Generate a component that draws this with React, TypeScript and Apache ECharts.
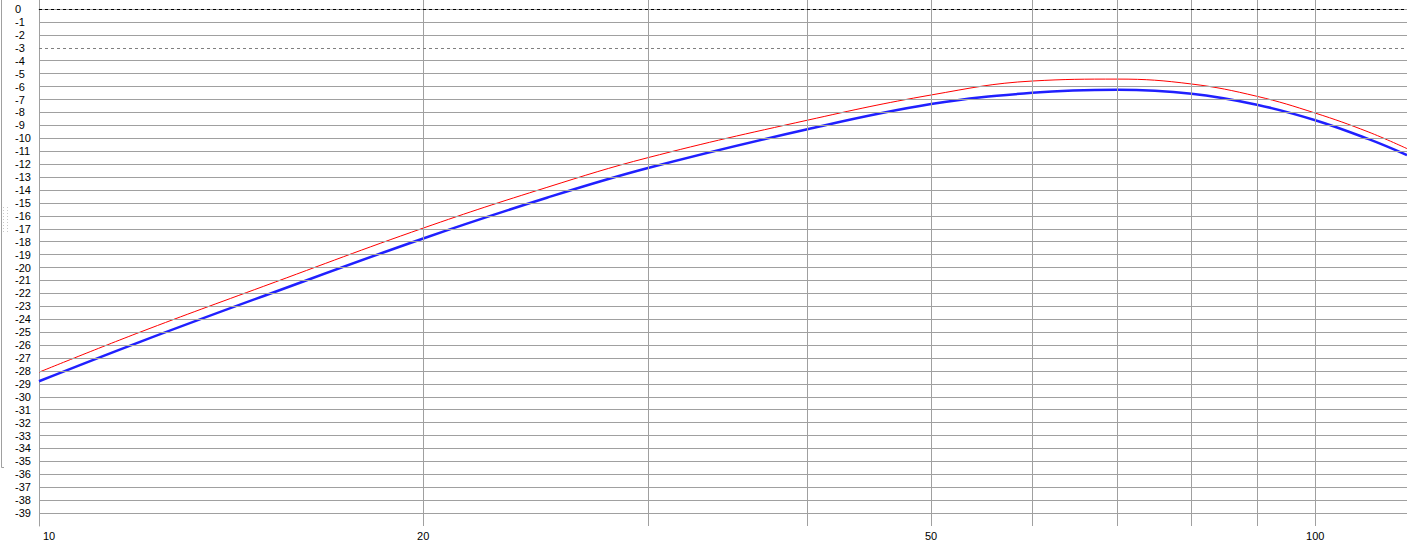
import React, { useEffect, useRef } from "react";
import * as echarts from "echarts";

const freqs = [10, 12, 15, 20, 25, 30, 40, 50, 60, 70, 80, 90, 100, 110, 118];
const redValues = [-28.1, -25.0, -21.45, -16.95, -13.8, -11.5, -8.6, -6.65, -5.57, -5.42, -5.8, -6.75, -8.05, -9.5, -10.8];
const blueValues = [-28.8, -25.75, -22.2, -17.75, -14.6, -12.3, -9.3, -7.35, -6.48, -6.25, -6.55, -7.4, -8.6, -10.05, -11.3];

const xLabelValues = [10, 20, 50, 100];
const xGridValues = [20, 30, 40, 50, 60, 70, 80, 90, 100];
const yGridSolid = [-1, -2, -4, -5, -6, -7, -8, -9, -10, -11, -12, -13, -14, -15, -16, -17, -18, -19, -20,
  -21, -22, -23, -24, -25, -26, -27, -28, -29, -30, -31, -32, -33, -34, -35, -36, -37, -38, -39];
const yRefBlack = [0];
const yRefGray = [-3];

const FONT = "'Liberation Sans', Arial, sans-serif";

export default function App() {
  const ref = useRef<HTMLDivElement>(null);
  useEffect(() => {
    document.body.style.margin = "0";
    const chart = echarts.init(ref.current!, null, { renderer: "svg" });
    const gridColor = "#a0a0a0";
    const option: any = {
      animation: false,
      backgroundColor: "#ffffff",
      grid: { left: 39, right: 0, top: 0, bottom: 29, containLabel: false, outerBoundsMode: "none" },
      xAxis: {
        type: "log",
        logBase: 10,
        min: 10,
        max: 118,
        axisLine: { show: true, lineStyle: { color: gridColor, width: 1 } },
        axisTick: { show: false },
        splitLine: { show: false },
        minorSplitLine: { show: false },
        axisLabel: {
          customValues: xLabelValues,
          margin: 4,
          color: "#000",
          fontSize: 11,
          fontFamily: FONT,
          formatter: (v: number) => {
            const r = Math.round(v);
            return r === 10 ? "{first|10}" : String(r);
          },
          rich: {
            first: { padding: [0, 0, 0, 20], fontSize: 11, fontFamily: FONT, color: "#000" },
          },
        },
      },
      yAxis: {
        type: "value",
        min: -40,
        max: 0.7,
        interval: 1,
        axisLine: { show: true, lineStyle: { color: gridColor, width: 1 } },
        axisTick: { show: false },
        splitLine: { show: false },
        axisLabel: {
          align: "left",
          margin: 24,
          color: "#000",
          fontSize: 11,
          fontFamily: FONT,
          showMaxLabel: false,
          formatter: (v: number) => (Number.isInteger(v) && v > -40 ? String(v) : ""),
        },
      },
      graphic: [
        {
          type: "polyline",
          shape: { points: [[1.5, 0], [1.5, 467.5], [4, 467.5]] },
          style: { stroke: "#a0a0a0", fill: "none", lineWidth: 1 },
          silent: true,
        },
        ...Array.from({ length: 9 }).flatMap((_, i) => [
          { type: "rect", shape: { x: 3, y: 207 + i * 3, width: 1, height: 1 }, style: { fill: "#c8c8c8" }, silent: true },
          { type: "rect", shape: { x: 7, y: 207 + i * 3, width: 1, height: 1 }, style: { fill: "#c8c8c8" }, silent: true },
        ]),
      ],
      series: [
        {
          type: "line",
          name: "grid",
          data: [],
          silent: true,
          z: 1,
          markLine: {
            silent: true,
            symbol: ["none", "none"],
            label: { show: false },
            emphasis: { disabled: true },
            lineStyle: { color: gridColor, type: "solid", width: 1 },
            data: [
              ...xGridValues.map((v) => ({ xAxis: v })),
              ...yGridSolid.map((v) => ({ yAxis: v })),
              ...yRefGray.map((v) => ({ yAxis: v, lineStyle: { color: "#808080", type: [3, 3], width: 1 } })),
              ...yRefBlack.map((v) => ({ yAxis: v, lineStyle: { color: "#000000", type: [3, 3], width: 1 } })),
            ],
          },
        },
        {
          type: "line",
          name: "red",
          data: freqs.map((f, i) => [f, redValues[i]]),
          smooth: 0.4,
          showSymbol: false,
          symbol: "none",
          z: 3,
          lineStyle: { color: "#ff0000", width: 1 },
        },
        {
          type: "line",
          name: "blue",
          data: freqs.map((f, i) => [f, blueValues[i]]),
          smooth: 0.4,
          showSymbol: false,
          symbol: "none",
          z: 4,
          lineStyle: { color: "#2020ff", width: 2.5 },
        },
      ],
    };
    chart.setOption(option);
    return () => chart.dispose();
  }, []);
  return <div ref={ref} style={{ position: "absolute", left: 0, top: 0, width: 1407, height: 555 }} />;
}
